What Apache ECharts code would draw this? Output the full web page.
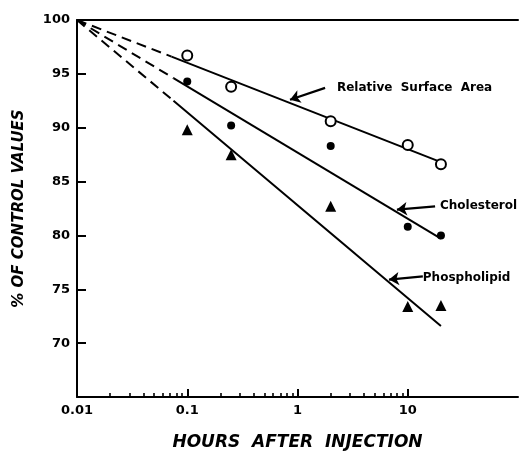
<!DOCTYPE html>
<html>
<head>
<meta charset="utf-8">
<script src="https://cdn.jsdelivr.net/npm/echarts@6.0.0/dist/echarts.min.js"></script>
<style>
  html, body { margin: 0; padding: 0; background: #fff; }
  #chart { width: 522px; height: 456px; }
</style>
</head>
<body>
<div id="chart"></div>
<script>
// measured points (hours, % of control)
var hours = [0.1, 0.25, 2, 10, 20];
var surfaceArea = [96.7, 93.8, 90.6, 88.4, 86.6];
var cholesterol = [94.3, 90.2, 88.3, 80.8, 80.0];
var phospholipid = [89.8, 87.5, 82.7, 73.4, 73.5];

// fitted lines: dashed part from 0.01 h, then solid
var areaDash = [[0.01, 100], [0.072, 96.6]];
var areaFit = [[0.072, 96.6], [20, 86.8]];
var cholDash = [[0.01, 100], [0.075, 94.6]];
var cholFit = [[0.075, 94.6], [20, 79.7]];
var phosDash = [[0.01, 100], [0.075, 92.5]];
var phosFit = [[0.075, 92.5], [20, 71.6]];

var xLabels = [0.01, 0.1, 1, 10];
var xMajor = [0.1, 1, 10];
var xMinor = [0.02, 0.03, 0.04, 0.05, 0.06, 0.07, 0.08, 0.09,
              0.2, 0.3, 0.4, 0.5, 0.6, 0.7, 0.8, 0.9,
              2, 3, 4, 5, 6, 7, 8, 9];

// annotations: text anchor and arrow [from, to]
var notes = [
    {text: 'Relative  Surface  Area', at: [2.28, 93.7], arrow: [[1.78, 93.7], [0.855, 92.6]]},
    {text: 'Cholesterol', at: [19.6, 82.7], arrow: [[17.7, 82.7], [7.98, 82.4]]},
    {text: 'Phospholipid', at: [13.7, 76.1], arrow: [[13.7, 76.2], [6.76, 75.9]]}
];

function pairs(xs, ys) {
    var out = [];
    for (var i = 0; i < xs.length; i++) {
        out.push([xs[i], ys[i]]);
    }
    return out;
}

var font = 'DejaVu Sans';

var chart = echarts.init(document.getElementById('chart'));

function fitLine(data, dashed) {
    return {
        type: 'line',
        data: data,
        symbol: 'none',
        silent: true,
        lineStyle: {color: '#000', width: 2, opacity: 1, type: dashed ? [10, 6] : 'solid'},
        z: 2
    };
}

function points(data, symbol, size, filled) {
    return {
        type: 'scatter',
        data: data,
        symbol: symbol,
        symbolSize: size,
        itemStyle: {
            color: filled ? '#000' : '#fff',
            borderColor: '#000',
            borderWidth: filled ? 0 : 2,
            opacity: 1
        },
        z: 3
    };
}

var arrows = [];
for (var i = 0; i < notes.length; i++) {
    arrows.push({coords: notes[i].arrow});
}

var option = {
    animation: false,
    backgroundColor: '#fff',
    grid: {left: 77, right: 4, top: 20, bottom: 57},
    xAxis: [{
        type: 'log',
        logBase: 10,
        min: 0.01,
        max: 100,
        name: 'HOURS  AFTER  INJECTION',
        nameLocation: 'middle',
        nameGap: 37,
        nameTextStyle: {fontFamily: font, fontSize: 17, fontStyle: 'italic', fontWeight: 'bold', color: '#000'},
        axisLine: {lineStyle: {color: '#000', width: 2}},
        axisTick: {inside: true, length: 8, customValues: xMajor, lineStyle: {color: '#000', width: 2}},
        axisLabel: {
            customValues: xLabels,
            fontFamily: font, fontSize: 13, fontWeight: 'bold', color: '#000', margin: 7,
            formatter: function (v) { return String(v); }
        },
        splitLine: {show: false}
    }, {
        type: 'log',
        logBase: 10,
        min: 0.01,
        max: 100,
        position: 'bottom',
        axisLine: {show: false},
        axisTick: {inside: true, length: 4, customValues: xMinor, lineStyle: {color: '#000', width: 1.6}},
        axisLabel: {show: false},
        splitLine: {show: false}
    }, {
        type: 'log',
        logBase: 10,
        min: 0.01,
        max: 100,
        position: 'top',
        axisLine: {lineStyle: {color: '#000', width: 2}},
        axisTick: {show: false},
        axisLabel: {show: false},
        splitLine: {show: false}
    }],
    yAxis: {
        type: 'value',
        min: 65,
        max: 100,
        interval: 5,
        name: '% OF CONTROL VALUES',
        nameLocation: 'middle',
        nameGap: 50,
        nameRotate: 90,
        nameTextStyle: {fontFamily: font, fontSize: 15, fontStyle: 'italic', fontWeight: 'bold', color: '#000'},
        axisLine: {show: true, lineStyle: {color: '#000', width: 2}},
        axisTick: {show: true, inside: true, length: 9, lineStyle: {color: '#000', width: 2}},
        axisLabel: {
            fontFamily: font, fontSize: 13, fontWeight: 'bold', color: '#000', margin: 7,
            formatter: function (v) { return v === 65 ? '' : String(v); }
        },
        splitLine: {show: false}
    },
    series: [
        fitLine(areaDash, true),
        fitLine(areaFit, false),
        fitLine(cholDash, true),
        fitLine(cholFit, false),
        fitLine(phosDash, true),
        fitLine(phosFit, false),
        points(pairs(hours, surfaceArea), 'circle', 10, false),
        points(pairs(hours, cholesterol), 'circle', 8, true),
        points(pairs(hours, phospholipid), 'triangle', 11, true),
        {
            type: 'lines',
            coordinateSystem: 'cartesian2d',
            data: arrows,
            symbol: ['none', 'arrow'],
            symbolSize: [0, 10],
            lineStyle: {color: '#000', width: 2.2, opacity: 1, curveness: 0},
            silent: true,
            z: 4
        }
    ]
};
chart.setOption(option);

// annotation texts placed at their data anchors
var texts = [];
for (var j = 0; j < notes.length; j++) {
    var p = chart.convertToPixel({xAxisIndex: 0, yAxisIndex: 0}, notes[j].at);
    texts.push({
        type: 'text',
        x: p[0],
        y: p[1],
        style: {
            text: notes[j].text,
            fontFamily: font,
            fontSize: 12,
            fontWeight: 'bold',
            fill: '#000',
            verticalAlign: 'middle',
            align: 'left'
        },
        z: 10
    });
}
chart.setOption({graphic: texts});
</script>
</body>
</html>
